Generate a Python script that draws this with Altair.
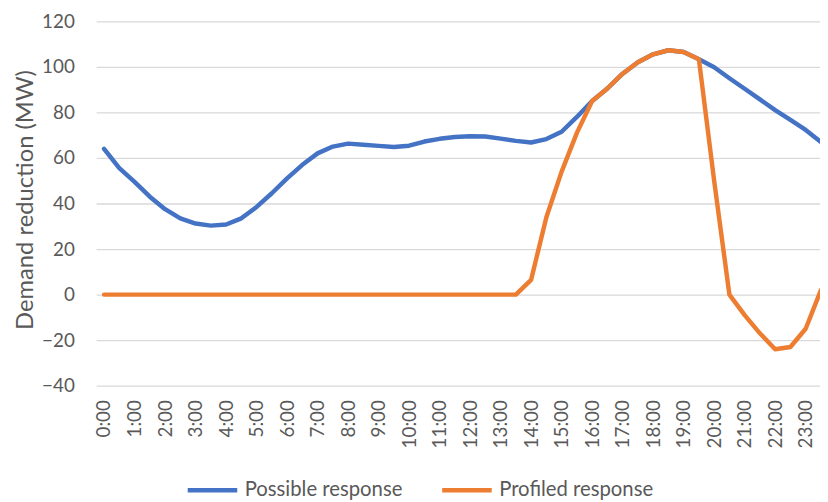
import altair as alt
import pandas as pd

# Half-hourly time points (hours)
hours = [i * 0.5 for i in range(48)]

possible_response = [
    64, 55.5, 49.5, 43, 37.5, 33.5, 31.2, 30.3, 30.8, 33.5,
    38.5, 44.5, 51, 57, 62, 65, 66.3, 65.8, 65.3, 64.8,
    65.4, 67.2, 68.4, 69.2, 69.5, 69.4, 68.5, 67.5, 66.8, 68.3,
    71.5, 78, 85, 90.5, 97, 102, 105.5, 107.3, 106.5, 103.3,
    99.8, 95, 90.4, 85.7, 81, 76.7, 72.3, 67,
]

profiled_response = [
    0, 0, 0, 0, 0, 0, 0, 0, 0, 0,
    0, 0, 0, 0, 0, 0, 0, 0, 0, 0,
    0, 0, 0, 0, 0, 0, 0, 0, 6.5, 34,
    54, 71, 85, 90.5, 97, 102, 105.5, 107.3, 106.5, 103.3,
    50, 0, -9, -17, -24, -23, -15, 2,
]

series_names = ["Possible response", "Profiled response"]
series_colors = ["#4472C4", "#ED7D31"]
tick_hours = list(range(24))
y_ticks = [-40, -20, 0, 20, 40, 60, 80, 100, 120]

df = pd.DataFrame({
    "hour": hours + hours,
    "value": possible_response + profiled_response,
    "series": [series_names[0]] * len(hours) + [series_names[1]] * len(hours),
})

FONT = "Lato"
GREY = "#595959"

chart = alt.Chart(df).mark_line(
    strokeWidth=4.5, strokeCap="round", strokeJoin="round", clip=True
).encode(
    x=alt.X(
        "hour:Q",
        scale=alt.Scale(domain=[-0.26, 23.47], nice=False, zero=False),
        axis=alt.Axis(
            values=tick_hours,
            labelExpr="datum.value + ':00'",
            labelAngle=-90,
            grid=False,
            domain=False,
            ticks=False,
            labelPadding=14,
            labelFontSize=19,
            labelColor=GREY,
            labelFont=FONT,
            title=None,
        ),
    ),
    y=alt.Y(
        "value:Q",
        scale=alt.Scale(domain=[-40, 120], nice=False),
        axis=alt.Axis(
            values=y_ticks,
            grid=True,
            gridColor="#D9D9D9",
            gridWidth=1.3,
            domain=False,
            ticks=False,
            labelPadding=22,
            labelFontSize=19,
            labelColor=GREY,
            labelFont=FONT,
            title="Demand reduction (MW)",
            titleFont=FONT,
            titleFontSize=24,
            titleFontWeight="normal",
            titleColor=GREY,
            titleX=-59,
            titleY=180,
        ),
    ),
    color=alt.Color(
        "series:N",
        scale=alt.Scale(domain=series_names, range=series_colors),
        legend=alt.Legend(
            title=None,
            orient="none",
            legendX=90,
            legendY=446,
            direction="horizontal",
            symbolType="stroke",
            symbolSize=2500,
            symbolStrokeWidth=4.5,
            labelFont=FONT,
            labelFontSize=20.5,
            labelColor=GREY,
            labelOffset=5,
            columnPadding=30,
        ),
    ),
).properties(
    width=731,
    height=368,
    autosize=alt.AutoSizeParams(type="none"),
    padding={"left": 89, "top": 11, "right": 0, "bottom": 116},
    background="white",
).configure_view(stroke=None)

chart.save("out.html", embed_options={"renderer": "svg", "actions": False})
